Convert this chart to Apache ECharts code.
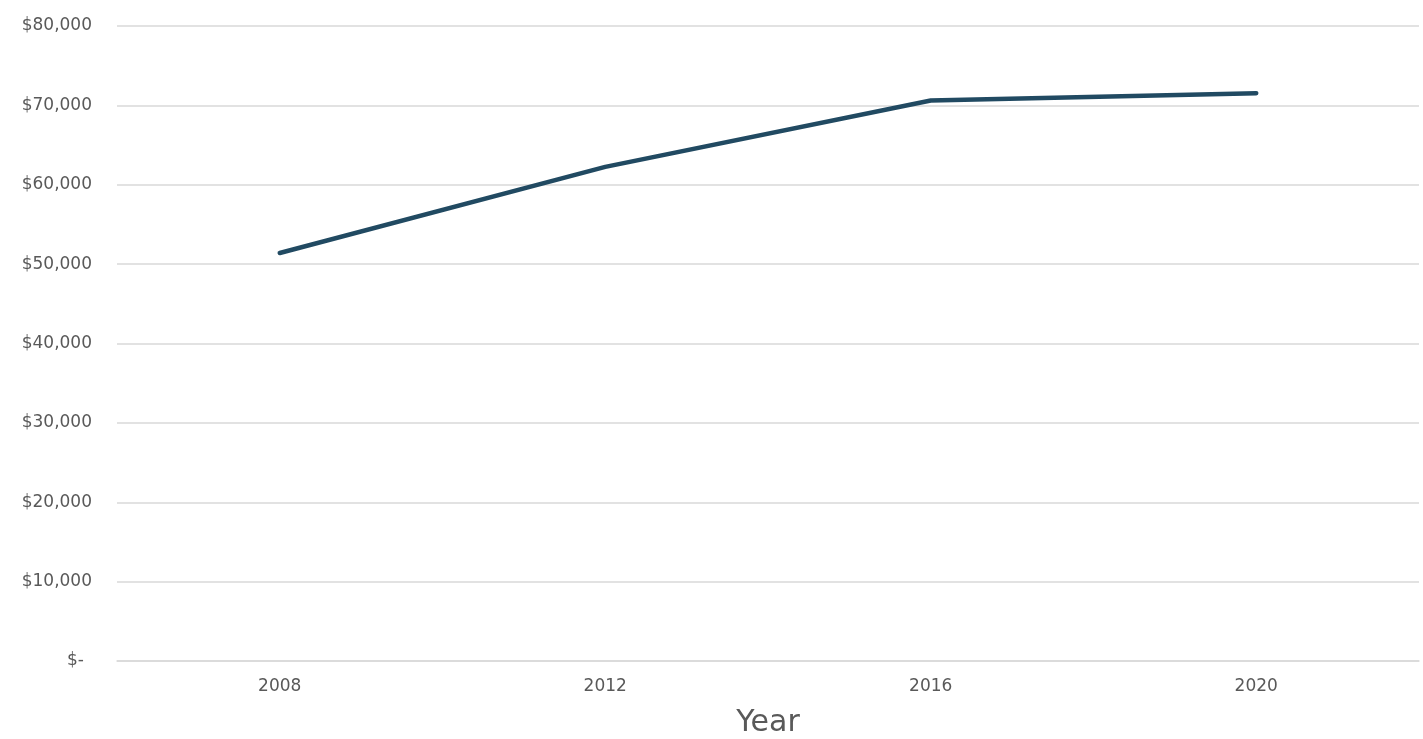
<!DOCTYPE html>
<html><head><meta charset="utf-8">
<script src="https://cdn.jsdelivr.net/npm/echarts@6/dist/echarts.min.js"></script>
<style>html,body{margin:0;padding:0;background:#fff;overflow:hidden}#c{width:1423px;height:739px}</style>
</head><body><div id="c"></div>
<script>
const years = ['2008', '2012', '2016', '2020'];
const income = [51400, 62250, 70620, 71540];
const yTicks = [0, 10000, 20000, 30000, 40000, 50000, 60000, 70000, 80000];

const FONT = '"DejaVu Sans", "Open Sans", sans-serif';
const chart = echarts.init(document.getElementById('c'));
chart.setOption({
  animation: false,
  backgroundColor: '#ffffff',
  grid: { left: 117, right: 4, top: 26, bottom: 78, containLabel: false, outerBoundsMode: 'none' },
  xAxis: {
    type: 'category',
    data: years,
    boundaryGap: true,
    name: 'Year',
    nameLocation: 'middle',
    nameGap: 47,
    nameTextStyle: { fontFamily: FONT, fontSize: 30, color: '#595959' },
    axisLine: { show: true, lineStyle: { color: '#d9d9d9', width: 1.5 } },
    axisTick: { show: false },
    axisLabel: { fontFamily: FONT, fontSize: 17, color: '#595959', margin: 17 }
  },
  yAxis: {
    type: 'value',
    min: yTicks[0],
    max: yTicks[yTicks.length - 1],
    interval: 10000,
    axisLine: { show: false },
    axisTick: { show: false },
    splitLine: { lineStyle: { color: '#d9d9d9', width: 1.5 } },
    axisLabel: {
      fontFamily: FONT, fontSize: 17, color: '#595959', margin: 25,
      formatter: v => v === 0 ? '{z|$-}' : '$' + v.toLocaleString('en-US'),
      rich: { z: { fontFamily: FONT, fontSize: 17, color: '#595959', padding: [0, 8, 0, 0] } }
    }
  },
  series: [{
    type: 'line',
    data: income,
    symbol: 'none',
    lineStyle: { color: '#214a62', width: 4.5, cap: 'round', join: 'round' }
  }]
});
</script></body></html>
